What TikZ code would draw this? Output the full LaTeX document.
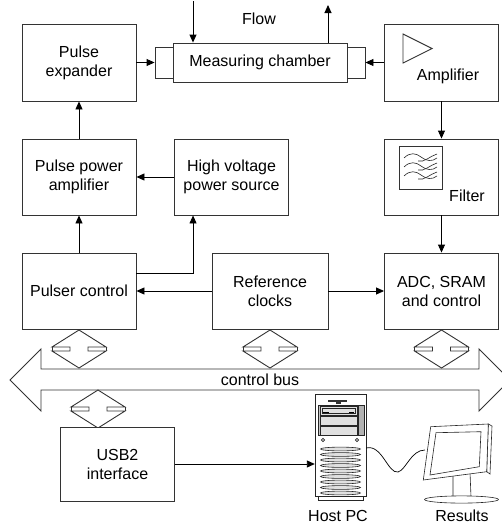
\documentclass[tikz,border=0pt]{standalone}
\usepackage{fontspec}
\setmainfont{Liberation Sans}
\usetikzlibrary{arrows.meta,calc}

\begin{document}
\begin{tikzpicture}[x=1pt,y=-1pt,
  font=\fontsize{16}{19}\selectfont,
  stroke/.style={draw=black!80, line width=0.9pt},
  thinline/.style={draw=black!85, line width=0.6pt},
  block/.style={stroke, fill=white, minimum width=114pt, minimum height=77pt,
                inner sep=0pt, align=center},
  conn/.style={draw=black, line width=0.9pt, -{Triangle[length=8pt,width=7pt]}},
  wire/.style={draw=black, line width=0.7pt},
  lbl/.style={inner sep=0pt, align=center},
  busport/.pic={
    \draw[stroke, fill=white] (0,-19) -- (27,-2) -- (9,-2) -- (9,2) -- (27,2)
      -- (0,19) -- (-27,2) -- (-9,2) -- (-9,-2) -- (-27,-2) -- cycle;
    \draw[stroke] (27,-2) -- (27,2) (-27,-2) -- (-27,2);
  }
]
\useasboundingbox (0,0) rectangle (502,525);
\clip (0,0) rectangle (502,525);

% ---------- measuring chamber and flow ----------
\node[block, minimum width=174pt, minimum height=39pt] (chamber) at (260,62.5) {Measuring chamber};
\node[block, minimum width=18pt, minimum height=31pt] (portL) at (164,62.5) {};
\node[block, minimum width=18pt, minimum height=31pt] (portR) at (356,62.5) {};
\coordinate (flowin) at (193,1);
\coordinate (flowout) at (328,5);
\draw[conn] (flowin) -- (flowin |- chamber.north);
\draw[conn] (flowout |- chamber.north) -- (flowout);
\node[lbl] (flow) at (259,19) {Flow};

% ---------- left column ----------
\node[block] (expander) at (79,62.5) {Pulse\\expander};
\node[block, minimum height=76pt] (ppa) at (79,177) {Pulse power\\amplifier};
\node[block, minimum height=76pt] (pulser) at (79,291) {Pulser control};

% ---------- middle column ----------
\node[block, minimum height=76pt] (hv) at (231.5,177) {High voltage\\power source};
\node[block, minimum width=116pt, minimum height=76pt] (refclk) at (270,291) {Reference\\clocks};

% ---------- right column ----------
\node[block] (amp) at (441.5,62.5) {};
\draw[stroke] (403,34) -- (403,63) -- (432,48.5) -- cycle;
\node[lbl] (amplbl) at (448,76) {Amplifier};

\node[block, minimum height=76pt] (filter) at (441.5,177) {};
\draw[stroke] (399,146) rectangle (442,189);
\foreach \y in {157,166,175}{
  \draw[thinline] (404,\y+1) .. controls (410,\y-5) and (416,\y-4) .. (421,\y)
                  .. controls (426,\y+4) and (432,\y+5) .. (437,\y+1);
  \draw[thinline] (418,\y+4) .. controls (424,\y+6) and (430,\y-1) .. (437,\y-3);
}
\node[lbl] (filtlbl) at (467,196) {Filter};

\node[block, minimum height=76pt] (adc) at (441.5,291) {ADC, SRAM\\and control};

% ---------- signal paths ----------
\draw[conn] (expander.east) -- (portL.west);
\draw[conn] (amp.west) -- (portR.east);
\draw[conn] (amp.south) -- (filter.north);
\draw[conn] (filter.south) -- (adc.north);
\draw[conn] (hv.west) -- (ppa.east);
\draw[conn] (ppa.north) -- (expander.south);
\draw[conn] (pulser.north) -- (ppa.south);
\draw[conn] ($(pulser.east)+(0,-18)$) -| ($(hv.south west)+(19,0)$);
\draw[conn] (refclk.west) -- (pulser.east);
\draw[conn] (refclk.east) -- (adc.west);

% ---------- control bus ----------
\draw[stroke, fill=white] (10,380) -- (41,349) -- (41,369) -- (479,369) -- (479,349)
  -- (510,380) -- (479,411) -- (479,390) -- (41,390) -- (41,411) -- cycle;
\node[lbl] (buslabel) at (260,380) {control bus};
\pic at (79,349) {busport};
\pic at (270,349) {busport};
\pic at (441.5,349) {busport};
\pic at (98,409) {busport};

% ---------- USB interface ----------
\node[block, minimum height=74pt] (usb) at (117.5,464) {USB2\\interface};

% ---------- host PC tower ----------
\node[inner sep=0pt, minimum width=51pt, minimum height=102pt] (pc) at (340.5,445) {};
\draw[thinline, fill=white] (318,494) rectangle (363,500);
\draw[thinline, fill=white] (315,394) rectangle (366,496);
\fill[black!80] (328,399.5) rectangle (347,402);
\fill[black!80] (336,402) rectangle (341,404);
\draw[thinline, fill=black!22] (318,405) rectangle (364,435);
\draw[thinline, fill=black!12] (320,406) rectangle (357,415);
\draw[thinline] (322,408) rectangle (355,413);
\draw[black, line width=1pt] (323,412) -- (329,412) (349,412) -- (354,412);
\draw[thinline, fill=black!12] (320,416) rectangle (357,425);
\draw[thinline, fill=black!12] (320,426) rectangle (357,435);
\draw[thinline, fill=black!30] (358,405) rectangle (364,435);
\draw[thinline] (323,440) circle (1.6);
\draw[thinline] (357,440) circle (1.6);
\foreach \k in {0,...,8}{
  \draw[thinline, fill=black!12] (340.5,449+5.5*\k) ellipse [x radius=20, y radius=1.9];
}
\node[lbl] (pclbl) at (338,516) {Host PC};
\draw[conn] (usb.east) -- (usb.east -| pc.west);

% ---------- monitor ----------
\coordinate (monin) at (425,450);
\draw[wire] ($(pc.east)+(0,3)$) .. controls (382,444) and (388,474) .. (398,472)
  .. controls (406,470) and (411,450) .. (monin);
\draw[thinline, fill=white] (453,474) -- (453,497) -- (471,497) -- (470,472);
\draw[thinline, fill=white] (461.5,499.5) ellipse [x radius=37, y radius=3.6];
\draw[thinline, fill=white] (488.3,424) -- (492,426) -- (490,474) -- (486.7,471.7) -- cycle;
\draw[thinline, fill=white] (430.7,426.7) -- (488.3,424) -- (486.7,471.7) -- (423.3,480) -- cycle;
\draw[thinline] (436,432.7) -- (481,431.7) -- (479.3,466.7) -- (430,475) -- cycle;
\node[lbl] (reslbl) at (462,516) {Results};
\end{tikzpicture}
\end{document}
